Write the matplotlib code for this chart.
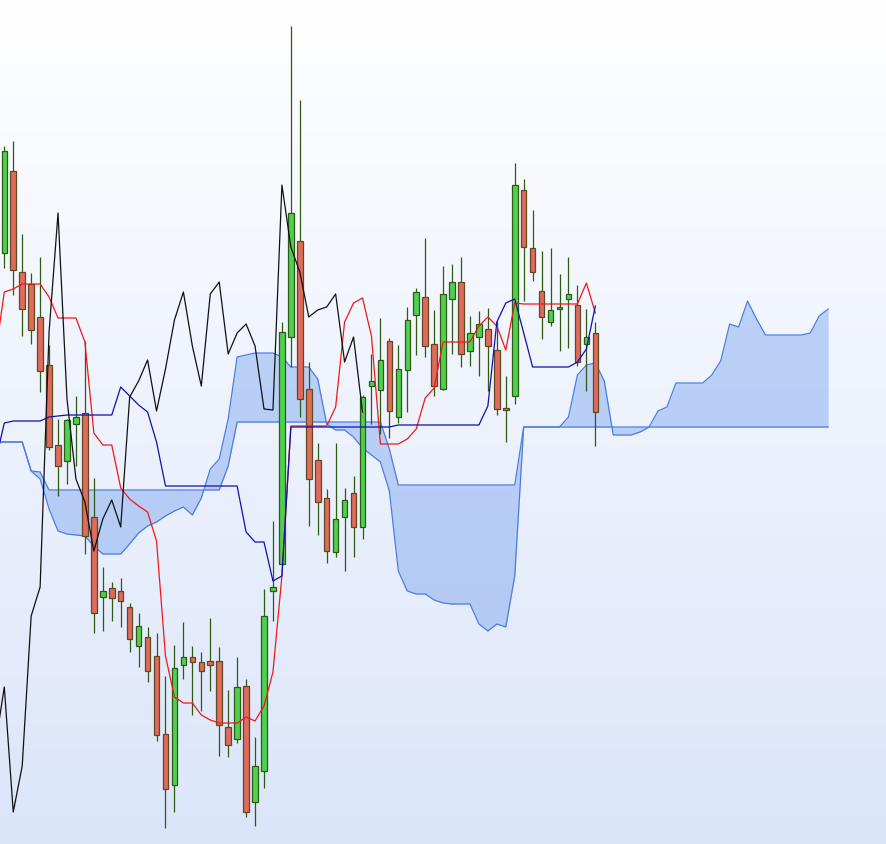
import numpy as np
import matplotlib
matplotlib.use('Agg')
import matplotlib.pyplot as plt
from matplotlib.colors import LinearSegmentedColormap

# candle data (arbitrary price units), index 0..66
OPEN = [746, 828, 727, 715, 682, 634, 554, 538, 575, 586,
        482, 402, 411, 408, 392, 353, 362, 343, 265, 214,
        334, 342, 337, 338, 338, 272, 260, 313, 197, 228,
        408, 435, 662, 758, 610, 539, 501, 447, 482, 506,
        472, 613, 609, 658, 582, 629, 684, 702, 655, 610,
        700, 717, 648, 662, 670, 649, 591, 603, 809, 751,
        708, 677, 690, 700, 694, 655, 666]
HIGH = [853, 858, 765, 726, 742, 654, 580, 580, 603, 658,
        521, 432, 417, 421, 396, 386, 372, 366, 323, 354,
        377, 353, 347, 381, 352, 309, 342, 320, 262, 410,
        478, 677, 973, 899, 637, 556, 510, 556, 511, 523,
        604, 645, 681, 661, 654, 692, 711, 761, 689, 733,
        735, 742, 683, 688, 691, 678, 623, 836, 820, 789,
        748, 751, 725, 742, 714, 690, 677]
LOW = [731, 704, 663, 655, 607, 549, 503, 515, 533, 445,
       366, 368, 378, 372, 347, 332, 317, 258, 171, 187,
       320, 284, 288, 308, 243, 242, 256, 182, 173, 211,
       378, 435, 632, 582, 473, 464, 436, 442, 428, 442,
       460, 575, 565, 561, 576, 587, 644, 642, 603, 609,
       645, 632, 633, 623, 608, 584, 557, 595, 698, 718,
       660, 673, 648, 651, 633, 608, 553]
CLOSE = [848, 729, 690, 669, 628, 552, 533, 579, 582, 463,
         386, 408, 401, 398, 360, 373, 328, 264, 210, 331,
         342, 337, 328, 334, 274, 254, 312, 187, 233, 383,
         412, 667, 786, 600, 520, 497, 448, 480, 499, 472,
         602, 618, 639, 588, 630, 679, 707, 653, 613, 705,
         717, 645, 666, 675, 653, 590, 589, 814, 752, 727,
         682, 689, 692, 705, 637, 662, 587]

# conversion line / base line, index -1..66
TENKAN = [644,
          707, 710, 715, 715, 715, 702, 681, 681, 681, 657,
          566, 554, 554, 511, 500, 493, 487, 458, 343, 302,
          296, 296, 284, 279, 276, 276, 276, 282, 278, 293,
          327, 423, 573, 573, 573, 573, 573, 592, 677, 696,
          701, 663, 555, 555, 555, 560, 570, 601, 611, 657,
          657, 657, 657, 673, 682, 673, 649, 696, 695, 695,
          695, 695, 695, 695, 695, 716, 686]
KIJUN = [537,
         576, 578, 578, 578, 578, 582, 583, 584, 584, 584,
         584, 584, 584, 612, 603, 594, 587, 557, 513, 513,
         513, 513, 513, 513, 513, 513, 513, 467, 457, 457,
         418, 423, 572, 572, 572, 572, 572, 572, 572, 572,
         572, 572, 572, 572, 574, 574, 574, 574, 574, 574,
         574, 574, 574, 574, 593, 677, 696, 700, 666, 632,
         632, 632, 632, 632, 637, 650, 693]

# leading spans, index -1..92
SPAN_A = [557, 557, 557, 557, 528, 520, 490, 468, 465, 464,
          463, 453, 445, 445, 445, 455, 466, 473, 477, 483,
          488, 492, 484, 501, 530, 540, 580,
          642, 644, 646, 646, 646, 642, 632, 632, 632, 620,
          575, 569, 569, 562, 551, 544, 537, 508, 428, 408,
          405, 405, 399, 396, 395, 395, 395, 375, 368, 375,
          372, 423, 572, 572, 572, 572, 572, 582, 624, 634,
          636, 618, 564, 564, 564, 567, 572, 588, 592, 616,
          616, 616, 616, 624, 638, 675, 672, 698, 680, 664,
          664, 664, 664, 664, 666, 683, 690]
SPAN_B = ([557] * 4 + [528, 527] + [509] * 20 + [533] + [577] * 17
          + [550] + [514] * 14 + [572] * 35)

SHIFT = 26

n = len(CLOSE)
x = np.arange(n)
op = np.array(OPEN)
cl = np.array(CLOSE)
up = cl >= op

fig = plt.figure(figsize=(8.87, 8.45), dpi=100)
ax = fig.add_axes([0, 0, 1, 1])
ax.axis('off')
x0, x1 = -0.48, 98.57
y0, y1 = 155, 1000
ax.set_xlim(x0, x1)
ax.set_ylim(y0, y1)

# background gradient
cmap = LinearSegmentedColormap.from_list('bg', ['#dbe5fa', '#ffffff'])
grad = np.linspace(0, 1, 256).reshape(-1, 1)
ax.imshow(grad, extent=[x0, x1, y0, y1], origin='lower', aspect='auto',
          cmap=cmap, zorder=0)

# cloud
xs = np.arange(-1, -1 + len(SPAN_A))
ax.fill_between(xs, SPAN_A, SPAN_B, color='#6495ed', alpha=0.38,
                linewidth=0, zorder=1)
ax.plot(xs, SPAN_A, color='#4a7de0', lw=0.9, zorder=2)
ax.plot(xs, SPAN_B, color='#4a7de0', lw=0.9, zorder=2)

# candles
ax.vlines(x, LOW, HIGH, color='#2f5a14', lw=0.9, zorder=3)
body = np.abs(cl - op)
body = np.where(body < 2, 2, body)
bottom = np.minimum(op, cl)
ax.bar(x[up], body[up], bottom=bottom[up], width=0.62, color='#4fd04f',
       edgecolor='#2f5a14', linewidth=0.9, zorder=4)
ax.bar(x[~up], body[~up], bottom=bottom[~up], width=0.62, color='#e06a5c',
       edgecolor='#5e4a1e', linewidth=0.9, zorder=4)

# lines
xl = np.arange(-1, n)
ax.plot(xl, TENKAN, color='#f01818', lw=0.9, zorder=5)
ax.plot(xl, KIJUN, color='#1010b4', lw=0.9, zorder=5)
lag_x = np.arange(25, n) - SHIFT
ax.plot(lag_x, cl[25:], color='#111111', lw=0.9, zorder=5)

fig.savefig('out.png', dpi=100)
